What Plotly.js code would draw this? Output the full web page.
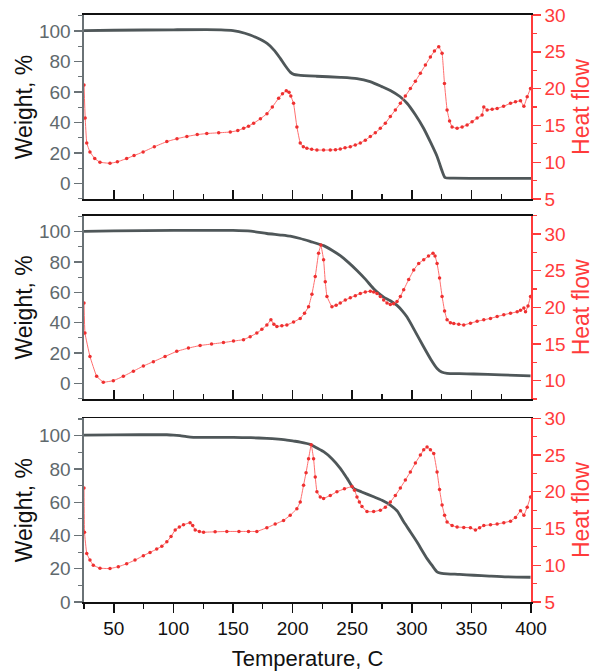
<!DOCTYPE html>
<html>
<head>
<meta charset="utf-8">
<script src="https://cdn.plot.ly/plotly-3.0.1.min.js"></script>
<style>html,body{margin:0;padding:0;background:#fff;}#chart{width:594px;height:671px;}</style>
</head>
<body>
<div id="chart"></div>
<script>
// ---------- Panel 1 ----------
const w1T = [25,50,100,140,150,160,170,178.6,185,189.7,194,198,201,205,220,240,254,265,275,282,290,296,303,310,316,321.3,325,328,335,400];
const w1W = [100.3,100.5,100.8,100.8,100.3,98.5,95.5,91.8,87,82,77,73,71.5,71,70.3,69.6,68.8,66.8,63.5,61,57,52.6,45,36,26.5,17.5,9,3.7,3.4,3.3];
const h1T = [25,26,27.3,30,34,38.4,46.8,53,60.8,67,74.6,84,94.5,103,111.3,120,128,138,147.7,154,158.9,163,167.3,173,178.5,183,188.3,191.5,194.7,197,198.5,200.8,203.6,206.4,209,212,216,220.4,226,231.6,236,240,244,248.4,252.6,256.8,261,265.2,269.4,273.6,277.8,282,286.2,290.4,294.6,298.8,303,307.2,311.4,315.6,319,322.6,325.4,327.4,329.6,331.7,333.8,338,342.2,346.4,350.6,354.8,359,360.4,363.2,367.4,371.6,377,382.8,387,391.2,394,396.8,399.6];
const h1H = [20.5,16,12.6,11.4,10.5,10.0,9.85,10.05,10.5,10.9,11.4,12.1,12.8,13.2,13.5,13.75,13.9,14.0,14.1,14.3,14.6,14.9,15.3,15.9,16.6,17.5,18.7,19.3,19.7,19.5,19.0,18.0,14.8,12.6,12.1,11.9,11.75,11.66,11.65,11.66,11.7,11.8,11.95,12.1,12.35,12.6,13.0,13.5,14.0,14.6,15.3,16.2,17.1,18.0,19.0,20.0,21.0,22.1,23.2,24.3,25.1,25.7,24.8,20.7,17.1,15.6,14.8,14.6,14.8,15.05,15.5,16.0,16.4,17.5,17.1,17.2,17.3,17.6,18.0,18.2,18.35,17.6,18.9,20.0];

// ---------- Panel 2 ----------
const w2T = [25,50,100,150,165,178.4,190,198,206.4,215,226,233,240,247,254,261,268,272,276.4,282,287.6,292,296,303,310,316,321.2,325,329.6,340,352,375,399.6];
const w2W = [100.2,100.5,100.8,100.8,100.3,98.8,97.8,97,95.5,93.5,90.8,87.8,84.2,79.6,74.4,68.7,62.4,59.5,56.9,54.5,51.4,47.8,43.7,34,24,15.8,9.8,7.5,6.6,6.4,6.2,5.6,5.0];
const h2T = [25,25.8,30,35.6,41.2,49.6,58,66.4,74.8,83.2,93,102.8,112.6,122.4,132,142,150.4,158.8,164.4,170,174.2,178.4,181.8,184.3,186.8,191,195.2,200.8,206.4,210,213.4,216.2,219,221.8,223.7,226,227.4,228.8,233,236.5,240,244.2,248.4,252.6,256.8,261,265.2,268,270.8,273.6,276.4,279.2,282,284.8,287.6,290.4,293.2,297.4,301.6,305.8,310,314,317.8,319.5,321.2,323.3,325.4,327.5,329.6,332.4,335.2,339.4,343.6,349.2,354.8,360.4,366,371.6,377.2,382.8,388.4,391.2,394,395.4,397.5,399.6];
const h2H = [20.6,16.5,13.3,10.6,9.8,10.0,10.6,11.3,12.0,12.6,13.3,14.0,14.45,14.8,15.0,15.2,15.4,15.6,16.0,16.5,17.0,17.6,18.3,17.7,17.4,17.5,17.6,18.0,18.5,19.2,20.1,21.8,24.2,27.4,28.5,26.5,23.5,21.5,20.1,20.3,20.6,21.0,21.3,21.6,21.9,22.1,22.2,22.1,21.9,21.5,21.0,20.6,20.4,20.5,20.8,21.5,22.4,23.8,25.1,26.0,26.5,27.0,27.4,27.0,26.0,24.0,21.5,19.5,18.3,17.9,17.8,17.7,17.6,17.85,18.1,18.3,18.5,18.75,19.0,19.2,19.4,19.6,19.9,19.4,20.2,21.5];

// ---------- Panel 3 ----------
const w3T = [25,50,94.5,100,105.6,111,116.8,130,150.4,165,178.4,188,195.2,201,206.4,214.8,220,226,233,240,245.6,251.2,258,268,275,282,288,293.2,299,304.4,308.6,312.8,317,321.2,324,326.8,340,352,365,380,399.6];
const w3W = [100.4,100.5,100.6,100.4,100.0,99.4,99.0,99.0,99.0,98.8,98.4,97.9,97.4,96.8,96.2,94.8,92.8,90.4,86.2,80.4,74.5,68.3,66.2,63.3,61.2,58.3,54.5,48.2,42,36.1,31,26.1,22,18.1,17.4,17.1,16.6,16.1,15.6,15.1,14.9];
const h3T = [25,25.4,27.3,30,32.8,38.4,46.8,53.8,60.8,67.8,74.8,80.4,86,90.3,94.5,98,101.5,105,108.5,114,116.2,118.3,121.8,125.3,135,144.8,155,163,170,178.4,185.4,192.4,198,203.6,206.4,209.2,211.3,213.4,215.6,217.6,219,220.4,223.2,226,231.6,237.2,243.5,249.8,252,254,256,258.2,262.4,268,273.6,277.8,282,286.2,290.4,294.6,298.8,303,307.2,310,312.8,315.6,318.4,321.2,323.3,325.4,327.5,329.6,333.8,338,343.6,349.2,353.4,356.9,360.4,366,371.6,377.2,382.8,387,391.2,394,396.8,399.6];
const h3H = [20.5,14.5,11.6,10.7,10.0,9.6,9.55,9.8,10.2,10.7,11.3,11.75,12.2,12.6,13.2,13.9,14.8,15.2,15.5,15.8,15.4,14.8,14.6,14.5,14.55,14.6,14.6,14.6,14.6,15.1,15.6,16.1,16.8,17.7,18.6,20.9,22.6,24.5,26.4,24.5,22.0,20.0,19.3,19.1,19.5,20.0,20.4,20.7,20.2,19.3,18.6,18.0,17.3,17.3,17.5,17.9,18.6,19.5,20.5,21.6,22.7,23.9,25.0,25.7,26.1,25.7,25.2,22.7,20.3,18.2,16.8,15.9,15.4,15.2,15.15,15.1,14.8,15.1,15.4,15.5,15.6,15.8,16.0,16.5,17.4,16.8,17.9,19.3];

const FONT = 'Liberation Sans, Arial, sans-serif';
const GRAY = '#4f5759';
const GRAYTXT = '#5f696d';
const RED = '#ff3b3b';

function wTrace(x, y, xa, ya) {
  return {x: x, y: y, xaxis: xa, yaxis: ya, type: 'scatter', mode: 'lines',
    line: {color: GRAY, width: 2.8, shape: 'spline', smoothing: 0.6}, hoverinfo: 'skip'};
}
function hTrace(x, y, xa, ya) {
  return {x: x, y: y, xaxis: xa, yaxis: ya, type: 'scatter', mode: 'lines+markers',
    line: {color: '#ff6e6e', width: 1, shape: 'spline', smoothing: 0.25},
    marker: {color: '#ee3030', size: 3.5}, hoverinfo: 'skip'};
}

const data = [
  wTrace(w1T, w1W, 'x', 'y'), hTrace(h1T, h1H, 'x', 'y2'),
  wTrace(w2T, w2W, 'x2', 'y3'), hTrace(h2T, h2H, 'x2', 'y4'),
  wTrace(w3T, w3W, 'x3', 'y5'), hTrace(h3T, h3H, 'x3', 'y6')
];

function xAx(anchor, bottom) {
  const a = {anchor: anchor, domain: [0, 1], range: [25, 400], showgrid: false, zeroline: false,
    showline: true, linecolor: '#111', linewidth: 1.6, mirror: true,
    ticks: bottom ? 'outside' : 'inside', tickmode: 'linear', tick0: 0, dtick: 50,
    ticklen: 9, tickwidth: 1.6, tickcolor: '#111',
    minor: {ticks: bottom ? 'outside' : 'inside', tick0: 0, dtick: 25, ticklen: 5, tickwidth: 1.4, tickcolor: '#111'},
    showticklabels: bottom, tickfont: {family: FONT, size: 19, color: '#111'}};
  if (bottom) a.title = {text: 'Temperature, C', font: {family: FONT, size: 22, color: '#111'}, standoff: 12};
  return a;
}
function yLeft(anchor, domain, range) {
  return {anchor: anchor, domain: domain, range: range, showgrid: false, zeroline: false,
    showline: true, linecolor: '#6a7276', linewidth: 1.6,
    ticks: 'outside', tickmode: 'linear', tick0: 0, dtick: 20, ticklen: 8, tickwidth: 1.4, tickcolor: '#6a7276',
    minor: {ticks: 'outside', tick0: 0, dtick: 10, ticklen: 4, tickwidth: 1.2, tickcolor: '#6a7276'},
    tickfont: {family: FONT, size: 19, color: GRAYTXT},
    title: {text: 'Weight, %', font: {family: FONT, size: 23, color: '#111'}, standoff: 0}};
}
function yRight(anchor, overlay, range) {
  return {anchor: anchor, overlaying: overlay, side: 'right', range: range, showgrid: false, zeroline: false,
    showline: true, linecolor: RED, linewidth: 1.6,
    ticks: 'outside', tickmode: 'linear', tick0: 0, dtick: 5, ticklen: 8, tickwidth: 1.4, tickcolor: RED,
    minor: {ticks: 'outside', tick0: 0, dtick: 2.5, ticklen: 4, tickwidth: 1.2, tickcolor: RED},
    tickfont: {family: FONT, size: 19, color: RED},
    title: {text: 'Heat flow', font: {family: FONT, size: 23, color: RED}, standoff: 17}};
}

const layout = {
  width: 594, height: 671,
  margin: {l: 84, r: 63, t: 15, b: 69},
  paper_bgcolor: '#fff', plot_bgcolor: 'rgba(0,0,0,0)',
  showlegend: false,
  font: {family: FONT},
  xaxis: xAx('y', false),
  xaxis2: xAx('y3', false),
  xaxis3: xAx('y5', true),
  yaxis: yLeft('x', [0.6865, 1.0], [-10.3, 110.5]),
  yaxis2: yRight('x', 'y', [5, 30]),
  yaxis3: yLeft('x2', [0.3458, 0.658], [-10.3, 110.5]),
  yaxis4: yRight('x2', 'y3', [7.5, 32.5]),
  yaxis5: yLeft('x3', [0, 0.313], [0, 110.5]),
  yaxis6: yRight('x3', 'y5', [5, 30])
};

Plotly.newPlot('chart', data, layout, {staticPlot: true, displayModeBar: false});
</script>
</body>
</html>
